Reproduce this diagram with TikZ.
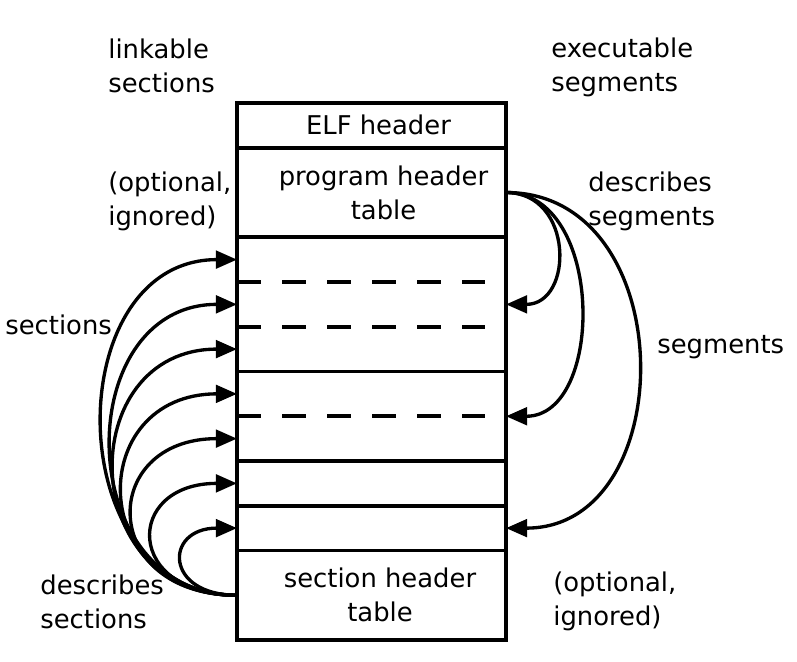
\documentclass[tikz,border=0pt]{standalone}
\usepackage{fontspec}
\setmainfont{DejaVu Sans}
\usetikzlibrary{positioning,arrows.meta}

\tikzset{
  part/.style={draw, line width=2pt, minimum width=5.38cm, inner sep=0pt, outer sep=0pt},
  partlabel/.style={align=center, label distance=0pt},
  sep/.style={line width=2.2pt, dash pattern=on 0.48cm off 0.42cm},
  link/.style={line width=1.9pt, -{Triangle[length=12pt,width=10pt]}},
  note/.style={anchor=west, align=left, inner sep=0pt},
}

\begin{document}
\begin{tikzpicture}[font=\fontsize{14.7}{19.3}\selectfont]
  \useasboundingbox (0,0) rectangle (15.94,13.22);

  % Row height
  \def\rowh{0.895cm}

  % File layout, top to bottom
  \node[part, minimum height=\rowh, anchor=north west,
        label={[partlabel, xshift=0.14cm]center:ELF header}] (elf) at (4.74,11.16) {};
  \node[part, minimum height=2*\rowh, below=0pt of elf,
        label={[partlabel, xshift=0.24cm]center:{program header\\table}}] (pht) {};
  \node[part, minimum height=3*\rowh, below=0pt of pht] (seg1) {};
  \node[part, minimum height=2*\rowh, below=0pt of seg1] (seg2) {};
  \node[part, minimum height=\rowh, below=0pt of seg2] (sec6) {};
  \node[part, minimum height=\rowh, below=0pt of sec6] (sec7) {};
  \node[part, minimum height=2*\rowh, below=0pt of sec7,
        label={[partlabel, xshift=0.17cm]center:{section header\\table}}] (sht) {};

  % Section borders inside the segments
  \draw[sep] ([yshift=0.5*\rowh]seg1.west) -- ++(4.96,0);
  \draw[sep] ([yshift=-0.5*\rowh]seg1.west) -- ++(4.96,0);
  \draw[sep] (seg2.west) -- ++(4.96,0);

  % Arrow targets, one per section
  \coordinate (s1) at ([yshift=\rowh]seg1.west);
  \coordinate (s2) at (seg1.west);
  \coordinate (s3) at ([yshift=-\rowh]seg1.west);
  \coordinate (s4) at ([yshift=0.5*\rowh]seg2.west);
  \coordinate (s5) at ([yshift=-0.5*\rowh]seg2.west);
  \coordinate (s6) at (sec6.west);
  \coordinate (s7) at (sec7.west);

  % Section header table -> sections
  \foreach \t/\a in {s1/3.58, s2/3.34, s3/3.26, s4/3.04, s5/2.78, s6/2.26, s7/1.46}
    \draw[link] (sht.west) .. controls +(-\a,0) and +(-\a,0) .. (\t);

  % Program header table -> segments
  \foreach \t/\a in {seg1/1.36, seg2/1.98, sec7/3.52}
    \draw[link] (pht.east) .. controls +(\a,0) and +(\a,0) .. (\t.east);

  % Labels
  \node[note] (lnk)  at (2.16,11.9)  {linkable\\sections};
  \node[note] (exe)  at (11.02,11.87) {executable\\segments};
  \node[note] (optl) at (2.16,9.19)  {(optional,\\ignored)};
  \node[note] (dseg) at (11.76,9.19) {describes\\segments};
  \node[note] (secs) at (0.1,6.72)   {sections};
  \node[note] (segs) at (13.14,6.28) {segments};
  \node[note] (dsec) at (0.8,1.19)   {describes\\sections};
  \node[note] (optr) at (11.06,1.19) {(optional,\\ignored)};

\end{tikzpicture}
\end{document}
